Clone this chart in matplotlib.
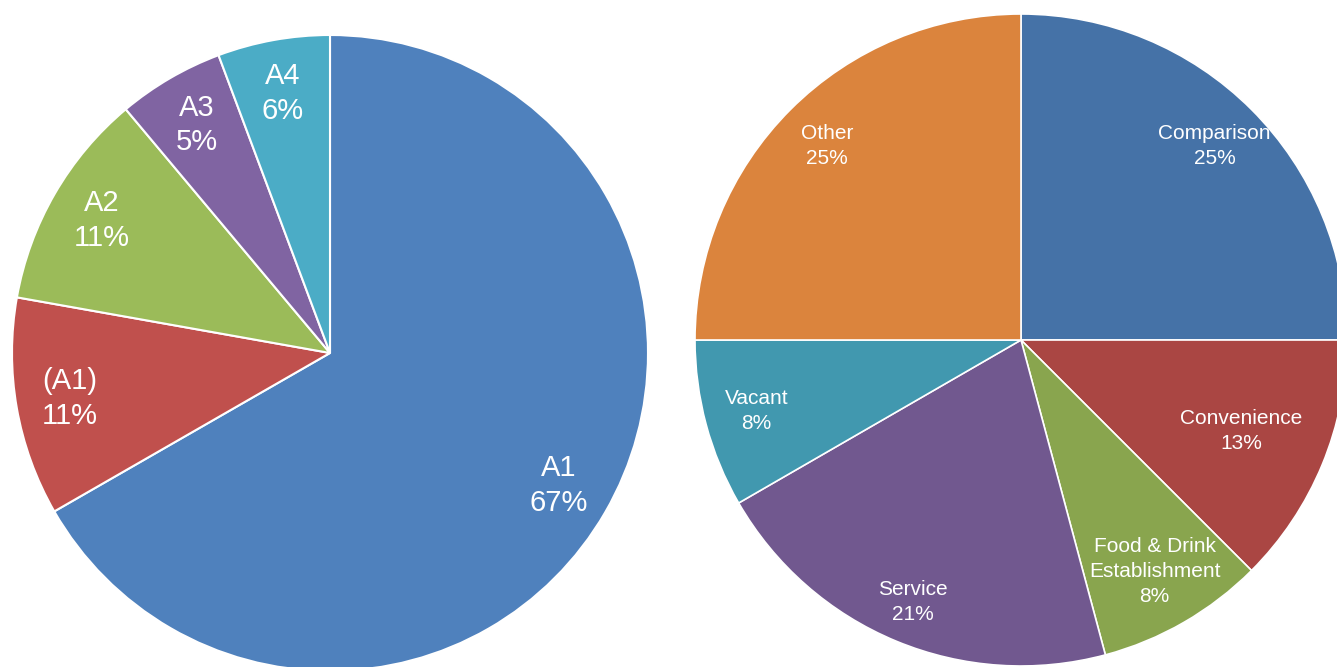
import numpy as np
import matplotlib.pyplot as plt

plt.rcParams['font.family'] = ['Liberation Sans', 'DejaVu Sans']

# left pie: use class split
left_names = ["A1", "(A1)", "A2", "A3", "A4"]
left_values = [66.7, 11.1, 11.1, 5.4, 5.7]
left_colors = ["#4F81BD", "#C0504D", "#9BBB59", "#8064A2", "#4BACC6"]

# right pie: retail category split (unit counts)
right_names = ["Comparison", "Convenience", "Food & Drink\nEstablishment",
               "Service", "Vacant", "Other"]
right_values = [6, 3, 2, 5, 2, 6]
right_colors = ["#4572A7", "#AA4643", "#89A54E", "#71588F", "#4198AF", "#DB843D"]
right_label_dist = [0.84, 0.73, 0.82, 0.87, 0.84, 0.84]


def make_pct(names):
    it = iter(names)
    return lambda p: f"{next(it)}\n{int(p + 0.5)}%"


W, H = 1337, 667
fig = plt.figure(figsize=(W / 100, H / 100), dpi=100)


def pie_axes(cx, cy, r):
    return fig.add_axes([(cx - r) / W, (H - cy - r) / H, 2 * r / W, 2 * r / H])


ax1 = pie_axes(330, 353, 318)
w1, t1, a1 = ax1.pie(left_values, colors=left_colors, startangle=90, counterclock=False,
                     autopct=make_pct(left_names), pctdistance=0.83,
                     wedgeprops=dict(edgecolor="white", linewidth=1.5),
                     textprops=dict(color="white", fontsize=21, linespacing=1.3))
ax1.set_xlim(-1, 1)
ax1.set_ylim(-1, 1)

ax2 = pie_axes(1021, 340, 326)
w2, t2, a2 = ax2.pie(right_values, colors=right_colors, startangle=90, counterclock=False,
                     autopct=make_pct(right_names), pctdistance=0.84,
                     wedgeprops=dict(edgecolor="white", linewidth=1.2),
                     textprops=dict(color="white", fontsize=15, linespacing=1.4))
for t, d in zip(a2, right_label_dist):
    x, y = t.get_position()
    t.set_position((x * d / 0.84, y * d / 0.84))
ax2.set_xlim(-1, 1)
ax2.set_ylim(-1, 1)

fig.savefig("out.png", dpi=100)
